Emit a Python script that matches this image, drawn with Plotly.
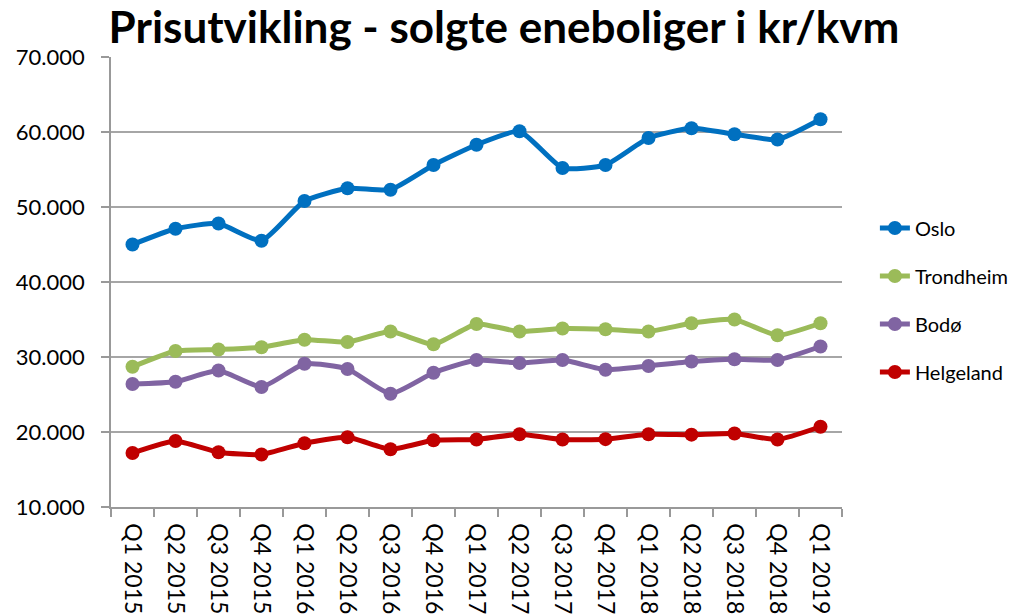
import plotly.graph_objects as go

quarters = ["Q1 2015", "Q2 2015", "Q3 2015", "Q4 2015",
            "Q1 2016", "Q2 2016", "Q3 2016", "Q4 2016",
            "Q1 2017", "Q2 2017", "Q3 2017", "Q4 2017",
            "Q1 2018", "Q2 2018", "Q3 2018", "Q4 2018",
            "Q1 2019"]

oslo = [45000, 47100, 47800, 45500, 50800, 52500, 52300, 55600, 58300,
        60100, 55200, 55600, 59200, 60500, 59700, 59000, 61700]
trondheim = [28700, 30800, 31000, 31300, 32300, 32000, 33400, 31700, 34400,
             33400, 33800, 33700, 33400, 34500, 35000, 32900, 34500]
bodo = [26400, 26700, 28200, 26000, 29100, 28400, 25100, 27900, 29600,
        29200, 29600, 28300, 28800, 29400, 29700, 29600, 31400]
helgeland = [17200, 18800, 17300, 17000, 18500, 19300, 17700, 18900, 19000,
             19700, 19000, 19050, 19700, 19650, 19800, 19000, 20700]

series = [("Oslo", oslo, "#0070C0"),
          ("Trondheim", trondheim, "#9BBB59"),
          ("Bodø", bodo, "#8064A2"),
          ("Helgeland", helgeland, "#C00000")]

fig = go.Figure()
for name, vals, color in series:
    fig.add_trace(go.Scatter(
        x=quarters, y=vals, name=name, mode="lines+markers",
        line=dict(color=color, width=5, shape="spline", smoothing=0.5),
        marker=dict(color=color, size=14),
        legendgroup=name,
    ))

FONT = "Lato"
fig.update_layout(
    width=1018, height=615,
    paper_bgcolor="white", plot_bgcolor="white",
    separators=",.",
    margin=dict(l=111, r=176, t=57, b=108, autoexpand=False),
    title=dict(text="<b>Prisutvikling - solgte eneboliger i kr/kvm</b>",
               x=504 / 1018, xanchor="center", xref="container",
               y=1 - 28 / 615, yanchor="middle", yref="container",
               font=dict(family=FONT, size=44, color="black")),
    font=dict(family=FONT, color="black"),
    legend=dict(x=1.045, xref="paper", xanchor="left",
                y=0.46, yanchor="middle",
                font=dict(family=FONT, size=20, color="black"),
                traceorder="grouped", tracegroupgap=19,
                itemwidth=30, bgcolor="rgba(0,0,0,0)"),
    showlegend=True,
)

fig.update_xaxes(
    type="category", tickangle=90, tickson="boundaries",
    ticks="outside", ticklen=8, tickcolor="#999999", tickwidth=1.5,
    showline=True, linecolor="#999999", linewidth=1.5,
    showgrid=False, automargin=False, ticklabelstandoff=10,
    tickfont=dict(family=FONT, size=23, color="black"),
    range=[-0.5, 16.5],
)
fig.update_yaxes(
    range=[10000, 70000], dtick=10000, tickformat=",d",
    ticks="outside", ticklen=8, tickcolor="#999999", tickwidth=1.5,
    showline=True, linecolor="#999999", linewidth=1.5,
    showgrid=True, gridcolor="#A6A6A6", gridwidth=1.5,
    zeroline=False, automargin=False, ticklabelstandoff=12,
    tickfont=dict(family=FONT, size=22, color="black"),
)

fig.write_html("out.html", config={"displayModeBar": False},
               post_script="document.body.style.margin='0';document.body.style.overflow='hidden';")
